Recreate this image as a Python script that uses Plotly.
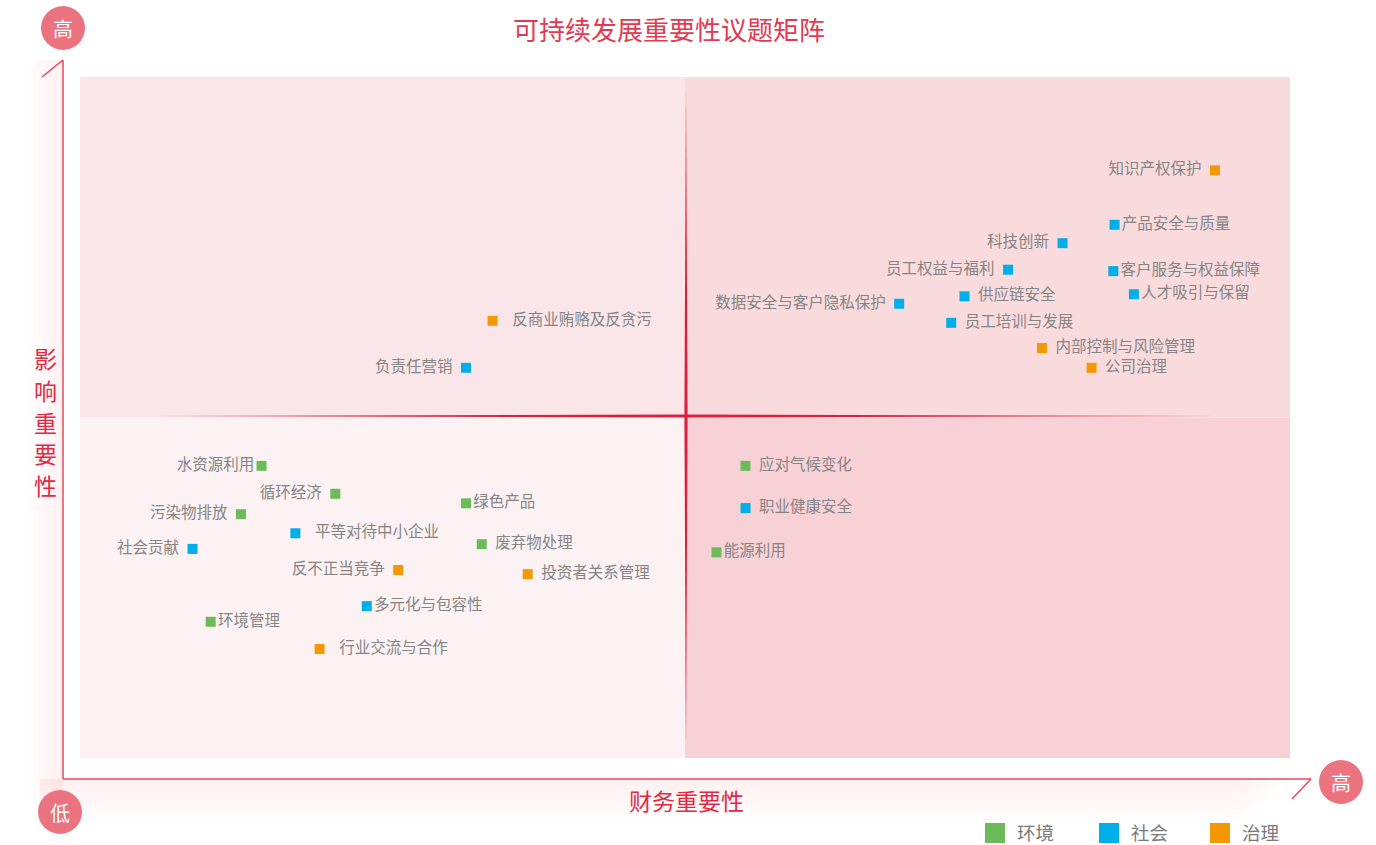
import plotly.graph_objects as go

# ---------------- data ----------------
topics = ["知识产权保护", "产品安全与质量", "科技创新", "员工权益与福利", "客户服务与权益保障",
          "人才吸引与保留", "供应链安全", "数据安全与客户隐私保护", "员工培训与发展",
          "内部控制与风险管理", "公司治理", "反商业贿赂及反贪污", "负责任营销",
          "应对气候变化", "职业健康安全", "能源利用", "水资源利用", "循环经济", "绿色产品",
          "污染物排放", "平等对待中小企业", "社会贡献", "废弃物处理", "反不正当竞争",
          "投资者关系管理", "多元化与包容性", "环境管理", "行业交流与合作"]
category = ["治理", "社会", "社会", "社会", "社会",
            "社会", "社会", "社会", "社会",
            "治理", "治理", "治理", "社会",
            "环境", "社会", "环境", "环境", "环境", "环境",
            "环境", "社会", "社会", "环境", "治理",
            "治理", "社会", "环境", "治理"]
financial = [93.8, 85.5, 81.2, 76.7, 85.4,
             87.1, 73.1, 67.7, 72.0,
             79.5, 83.6, 34.1, 31.9,
             55.0, 55.0, 52.6, 15.0, 21.1, 31.9,
             13.3, 17.8, 9.3, 33.2, 26.3,
             37.0, 23.7, 10.8, 19.8]
impact = [86.3, 78.3, 75.6, 71.7, 71.5,
          68.1, 67.8, 66.7, 63.9,
          60.2, 57.3, 64.2, 57.3,
          42.9, 36.7, 30.2, 42.9, 38.8, 37.4,
          35.8, 33.0, 30.7, 31.4, 27.6,
          27.0, 22.3, 20.0, 16.0]
categories = ["环境", "社会", "治理"]
title_text = "可持续发展重要性议题矩阵"
x_title = "财务重要性"
y_title = "影响重要性"

# label placement (style, kept separate from data)
label_side = ["L", "R", "L", "L", "R",
              "R", "R", "L", "R",
              "R", "R", "R", "L",
              "R", "R", "R", "L", "L", "R",
              "L", "R", "L", "R", "L",
              "R", "R", "R", "R"]
label_pad = [1, 0, 1, 1, 0,
             0, 1, 1, 1,
             1, 1, 2, 1,
             1, 1, 0, 0, 1, 0,
             1, 2, 1, 1, 1,
             1, 0, 0, 2]

colors = {"环境": "#6cbb5a", "社会": "#00aee9", "治理": "#f39800"}

# ---------------- geometry helpers (pixels -> paper) ----------------
W, H = 1376, 845
L, R, T, B = 80, 1290, 77, 758


def px(x):
    return (x - L) / (R - L)


def py(y):
    return (B - y) / (B - T)


fig = go.Figure()

for cat in categories:
    idx = [i for i, c in enumerate(category) if c == cat]
    texts = []
    pos = []
    for i in idx:
        pad = "\u2009" * label_pad[i] * 2
        if label_side[i] == "R":
            texts.append(pad + topics[i])
            pos.append("middle right")
        else:
            texts.append(topics[i] + pad)
            pos.append("middle left")
    fig.add_trace(go.Scatter(
        x=[financial[i] for i in idx],
        y=[impact[i] for i in idx],
        mode="markers+text",
        text=texts,
        textposition=pos,
        textfont=dict(size=15.5, color="#858585"),
        marker=dict(symbol="square", size=10, color=colors[cat]),
        name=cat,
        showlegend=False,
        hoverinfo="text",
        hovertext=[topics[i] for i in idx],
    ))

shapes = []
annotations = []
# quadrant backgrounds
quad = [
    (0, 50, 50, 100, "#fae6e8"),
    (50, 100, 50, 100, "#f9dadd"),
    (0, 50, 0, 50, "#fcf2f3"),
    (50, 100, 0, 50, "#f7d1d6"),
]
for x0, x1, y0, y1, c in quad:
    shapes.append(dict(type="rect", xref="x", yref="y", x0=x0, x1=x1, y0=y0, y1=y1,
                       fillcolor=c, line=dict(width=0), layer="below"))

# faint shadow gradients along the axes
for k in range(1, 8):
    shapes.append(dict(type="rect", xref="paper", yref="paper",
                       x0=px(63 - k * 5), x1=px(63), y0=py(800), y1=py(60),
                       fillcolor="rgba(240,140,155,0.014)", line=dict(width=0), layer="below"))
    shapes.append(dict(type="rect", xref="paper", yref="paper",
                       x0=px(40), x1=px(1300 - k * 8), y0=py(779 + k * 6), y1=py(779),
                       fillcolor="rgba(240,140,155,0.014)", line=dict(width=0), layer="below"))

# tapered centre cross
hy = py(416)
hx = px(686)
dy = 1.6 / (B - T)
dx = 1.6 / (R - L)
shapes.append(dict(type="path", xref="paper", yref="paper",
                   path=f"M {px(150)},{hy} L {hx},{hy + dy} L {px(1220)},{hy} L {hx},{hy - dy} Z",
                   fillcolor="#dc1f3c", line=dict(width=0)))
shapes.append(dict(type="path", xref="paper", yref="paper",
                   path=f"M {hx},{py(88)} L {hx + dx},{hy} L {hx},{py(745)} L {hx - dx},{hy} Z",
                   fillcolor="#dc1f3c", line=dict(width=0)))

axis_col = "#e34a5e"
shapes.append(dict(type="line", xref="paper", yref="paper", x0=px(63), x1=px(63), y0=py(779), y1=py(60),
                   line=dict(color=axis_col, width=1.5)))
shapes.append(dict(type="line", xref="paper", yref="paper", x0=px(63), x1=px(1311), y0=py(779), y1=py(779),
                   line=dict(color=axis_col, width=1.5)))
shapes.append(dict(type="line", xref="paper", yref="paper", x0=px(63), x1=px(42), y0=py(60), y1=py(77),
                   line=dict(color=axis_col, width=1.5)))
shapes.append(dict(type="line", xref="paper", yref="paper", x0=px(1311), x1=px(1292), y0=py(779), y1=py(799),
                   line=dict(color=axis_col, width=1.5)))

# end circles
circ_col = "#eb7380"
circles = [(63, 28, "高"), (60, 812, "低"), (1341, 782, "高")]
for cx, cy, t in circles:
    r = 22
    shapes.append(dict(type="circle", xref="paper", yref="paper",
                       x0=px(cx - r), x1=px(cx + r), y0=py(cy + r), y1=py(cy - r),
                       fillcolor=circ_col, line=dict(width=0)))
    annotations.append(dict(x=px(cx), y=py(cy), xref="paper", yref="paper", text=t, showarrow=False,
                            font=dict(size=20, color="white"), xanchor="center", yanchor="middle"))

# legend (drawn manually to keep plot geometry fixed)
legend_x = [985, 1099, 1210]
for cat, lx in zip(categories, legend_x):
    shapes.append(dict(type="rect", xref="paper", yref="paper",
                       x0=px(lx), x1=px(lx + 20), y0=py(843), y1=py(823),
                       fillcolor=colors[cat], line=dict(width=0)))
    annotations.append(dict(x=px(lx + 30), y=py(832), xref="paper", yref="paper", text=cat,
                            showarrow=False, font=dict(size=18.5, color="#7a7a7a"),
                            xanchor="left", yanchor="middle"))

# titles
annotations.append(dict(x=px(669), y=py(28), xref="paper", yref="paper", text=title_text,
                        showarrow=False, font=dict(size=26, color="#e23a52"),
                        xanchor="center", yanchor="middle"))
annotations.append(dict(x=px(687), y=py(800), xref="paper", yref="paper", text=x_title,
                        showarrow=False, font=dict(size=23, color="#e02a45"),
                        xanchor="center", yanchor="middle"))
for k, ch in enumerate(y_title):
    annotations.append(dict(x=px(45), y=py(358 + k * 31.8), xref="paper", yref="paper", text=ch,
                            showarrow=False, font=dict(size=23, color="#e02a45"),
                            xanchor="center", yanchor="middle"))

fig.update_layout(
    width=W, height=H,
    margin=dict(l=L, r=W - R, t=T, b=H - B, autoexpand=False),
    paper_bgcolor="white", plot_bgcolor="white",
    font=dict(family="Noto Sans CJK SC, sans-serif"),
    xaxis=dict(range=[0, 100], visible=False, fixedrange=True),
    yaxis=dict(range=[0, 100], visible=False, fixedrange=True),
    shapes=shapes,
    annotations=annotations,
    showlegend=False,
)

fig.write_html("out.html", config={"displayModeBar": False},
               post_script="document.body.style.margin='0';document.body.style.overflow='hidden';")
